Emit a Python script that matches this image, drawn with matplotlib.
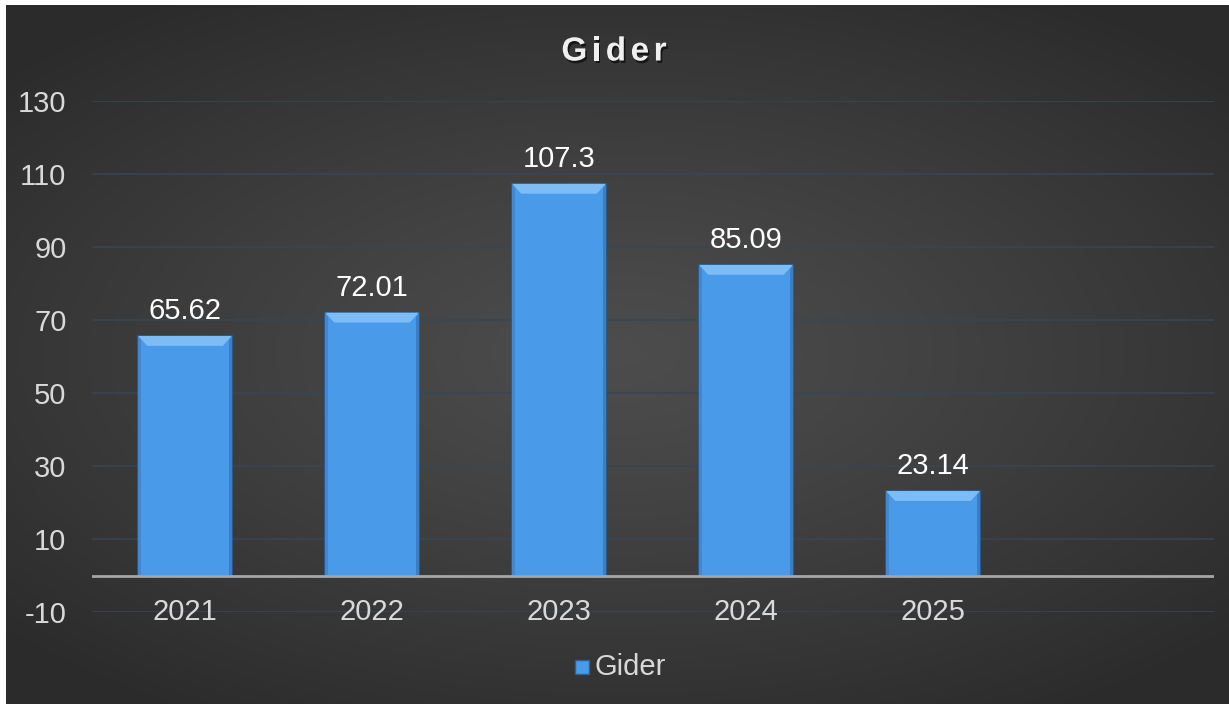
import numpy as np
import matplotlib.pyplot as plt
import matplotlib.patheffects as pe
from matplotlib.patches import Polygon

# データ
categories = ["2021", "2022", "2023", "2024", "2025", ""]
values = [65.62, 72.01, 107.3, 85.09, 23.14, None]
value_labels = ["65.62", "72.01", "107.3", "85.09", "23.14"]
yticks = [-10, 10, 30, 50, 70, 90, 110, 130]
title = "Gider"

plt.rcParams['font.family'] = ['Liberation Sans', 'DejaVu Sans']

W, H = 1229, 704
fig = plt.figure(figsize=(W / 100, H / 100), dpi=100)
fig.patch.set_facecolor("white")

# 背景 (放射状グラデーション)
bg = fig.add_axes([6 / W, 0, 1 - 6 / W, 1 - 5 / H])
gx, gy = np.meshgrid(np.linspace(-1, 1, 400), np.linspace(-1, 1, 240))
r = np.sqrt((gx / 1.0) ** 2 + (gy / 0.9) ** 2)
shade = 0.30 - 0.13 * np.clip(r / 1.35, 0, 1) ** 1.2
img = np.dstack([shade, shade, shade])
bg.imshow(img, aspect="auto", extent=[0, 1, 0, 1], interpolation="bilinear")
bg.set_axis_off()

# プロット領域
ax = fig.add_axes([91.5 / W, 1 - 612 / H, 1122 / W, 511 / H])
ax.set_facecolor("none")
ax.set_xlim(-0.5, len(categories) - 0.5)
ax.set_ylim(-10, 130)

for t in yticks:
    ax.axhline(t, color="#3a4652", lw=1.1, zorder=1)
ax.axhline(0, color="#a6a6a6", lw=2, zorder=4)

bar_w = 0.5
for i, v in enumerate(values):
    if v is None:
        continue
    ax.bar(i, v, width=bar_w, color="#4a9aea", edgecolor="#2b5f96",
           linewidth=1.2, zorder=3)
    # ベベル風の縁
    x0, x1 = i - bar_w / 2, i + bar_w / 2
    dx, dy = 0.048, 2.7
    sw = 0.016
    ax.add_patch(Polygon([[x1, v], [x1, 0], [x1 - sw, 0], [x1 - sw, v - dy * 0.4]],
                         closed=True, facecolor="#3a7fc6", edgecolor="none", zorder=3.5))
    ax.add_patch(Polygon([[x0, v], [x0, 0], [x0 + sw, 0], [x0 + sw, v - dy * 0.4]],
                         closed=True, facecolor="#4188d0", edgecolor="none", zorder=3.5))
    ax.add_patch(Polygon([[x0, v], [x1, v], [x1 - dx, v - dy], [x0 + dx, v - dy]],
                         closed=True, facecolor="#7cbdf6", edgecolor="none", zorder=3.6))
    ax.text(i, v + 3.0, value_labels[i], ha="center", va="bottom",
            color="white", fontsize=21, zorder=5)

for i, c in enumerate(categories):
    ax.text(i, -10, c, ha="center", va="center", color="#d9d9d9",
            fontsize=21, zorder=5)

ax.set_xticks([])
ax.set_yticks(yticks)
ax.set_yticklabels([str(t) for t in yticks], color="#d9d9d9", fontsize=21)
ax.tick_params(axis="y", length=0, pad=18)
for s in ax.spines.values():
    s.set_visible(False)

# タイトル (字間を広げて一文字ずつ配置)
renderer = fig.canvas.get_renderer()
widths = []
for ch in title:
    t = fig.text(0, 0, ch, fontsize=24, fontweight="bold")
    widths.append(t.get_window_extent(renderer).width)
    t.remove()
gap = 4.5
total = sum(widths) + gap * (len(title) - 1)
cx = 614 - total / 2
shadow = [pe.SimpleLineShadow(offset=(1.2, -1.8), shadow_color="black", alpha=0.6),
          pe.Normal()]
for ch, w in zip(title, widths):
    fig.text(cx / W, 1 - 52 / H, ch, ha="left", va="center",
             fontsize=24, fontweight="bold", color="#efefef",
             path_effects=[pe.withSimplePatchShadow(offset=(1.2, -1.8),
                                                    shadow_rgbFace="black", alpha=0.6)])
    cx += w + gap

# 凡例
lx, ly = 575, 667
fig.patches.append(plt.Rectangle((lx / W, 1 - (ly + 7) / H), 14 / W, 14 / H,
                                 transform=fig.transFigure, facecolor="#4a9aea",
                                 edgecolor="#2b5f96", lw=1))
fig.text((lx + 20) / W, 1 - ly / H, "Gider", ha="left", va="center",
         fontsize=21, color="#d9d9d9")

fig.savefig("out.png", dpi=100, facecolor=fig.get_facecolor())
